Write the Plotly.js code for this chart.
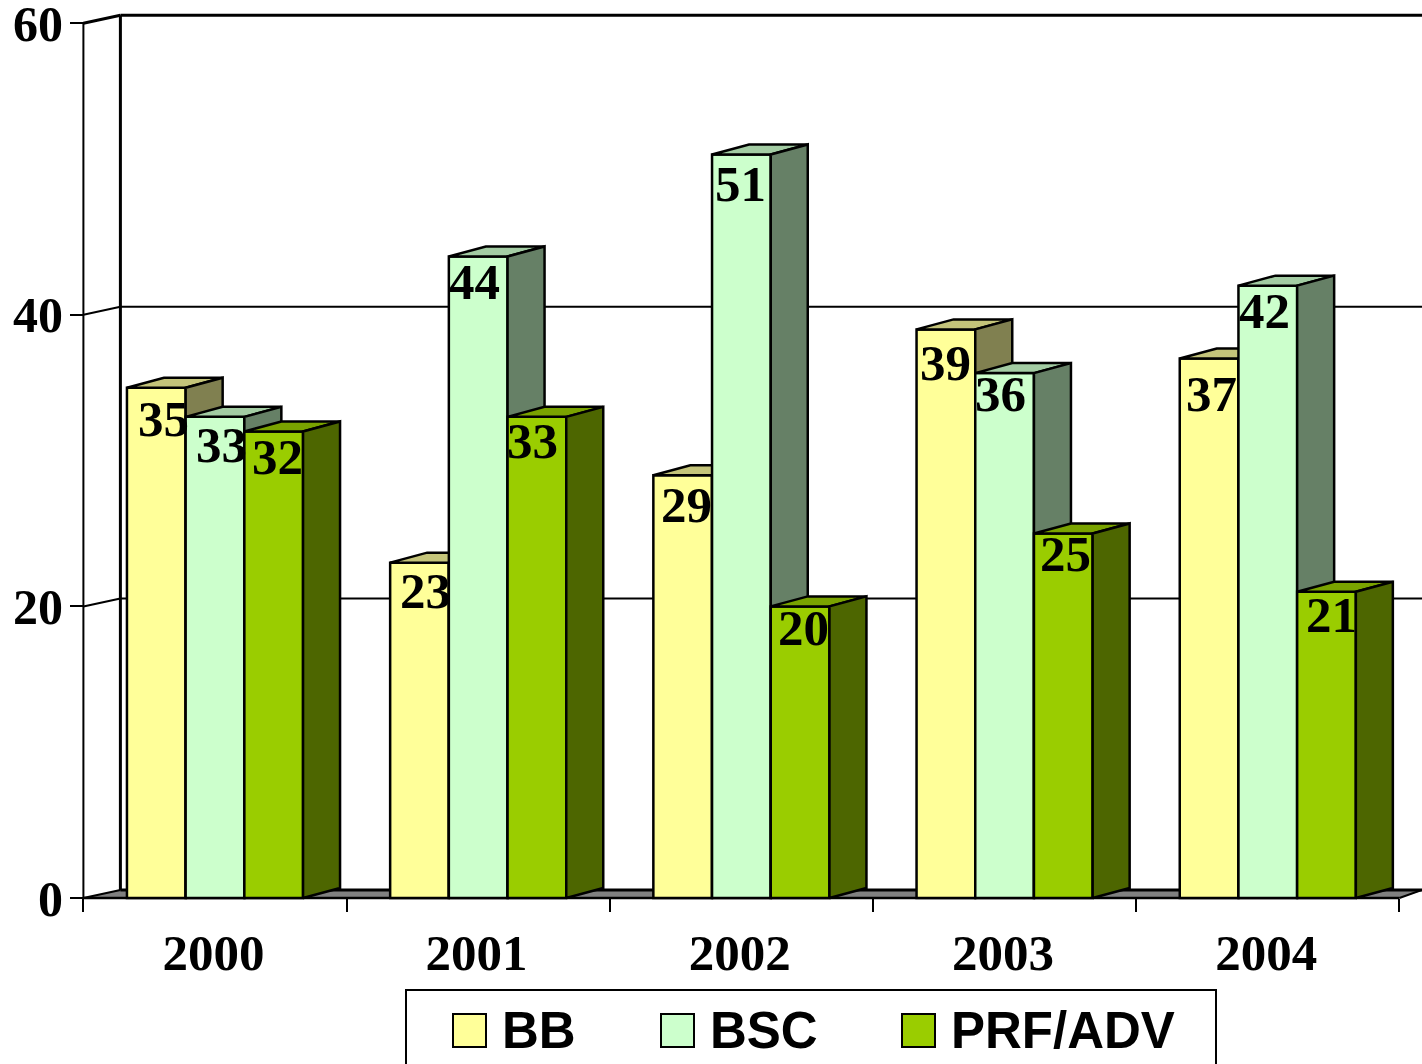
<!DOCTYPE html>
<html><head><meta charset="utf-8">
<script src="https://cdn.plot.ly/plotly-3.0.1.min.js"></script>
<style>html,body{margin:0;padding:0;background:#fff;overflow:hidden}</style>
</head><body><div id="chart" style="width:1422px;height:1064px"></div>
<script>
// ---- data ----
const years = ['2000','2001','2002','2003','2004'];
const seriesNames = ['BB','BSC','PRF/ADV'];
const BB  = [35,23,29,39,37];
const BSC = [33,44,51,36,42];
const PRF = [32,33,20,25,21];
const yTicks = [0,20,40,60];

// ---- styles ----
const frontColors = ['#FFFF99','#CCFFCC','#9ACD00'];
const topColors   = ['#C4C47A','#A3CCA3','#7AA300'];
const sideColors  = ['#808050','#668066','#4D6600'];
const labelShiftX = [[7,6,4,0,2],[6,-4,-1,-4,-3],[4,-4,3,2,5]];
const labelShiftY = [[31,28,30,34,35],[28,26,30,21,25],[26,24,22,20,23]];

// ---- geometry (pixels -> axis units) ----
const W = 1422, H = 1064;
const pxPerCat = 263.2, pxPerVal = 14.58, x0px = 215, y0px = 898;
const xRange = [-x0px/pxPerCat, (W-x0px)/pxPerCat];
const yRange = [(y0px-H)/pxPerVal, y0px/pxPerVal];
const barW = 58.7/pxPerCat, depthX = 37/pxPerCat, depthY = 10/pxPerVal, wallY = 8/pxPerVal;
const serif = 'Liberation Serif, Times New Roman, serif';
const sans = 'Liberation Sans, Arial, sans-serif';
const values = [BB,BSC,PRF];
const idx = years.map((_,i)=>i);

const traces = [];
values.forEach((vals,k)=>{
  const suffix = k===0 ? '' : String(k+1);
  const xa = 'x'+suffix, ya = 'y'+suffix;
  const off = -1.5*barW + k*barW;
  traces.push({type:'bar', name:seriesNames[k], x:idx, y:vals, xaxis:xa, yaxis:ya,
    width:barW, offset:off, marker:{color:frontColors[k], line:{color:'#000',width:2.5}},
    showlegend:false, hoverinfo:'x+y+name'});
  const tx=[],ty=[],sx=[],sy=[];
  vals.forEach((v,i)=>{
    const l=i+off, r=l+barW;
    tx.push(l,l+depthX,r+depthX,r,l,null); ty.push(v,v+depthY,v+depthY,v,v,null);
    sx.push(r,r+depthX,r+depthX,r,r,null); sy.push(0,depthY,v+depthY,v,0,null);
  });
  [[tx,ty,topColors[k]],[sx,sy,sideColors[k]]].forEach(([px,py,c])=>{
    traces.push({type:'scatter',mode:'lines',x:px,y:py,xaxis:xa,yaxis:ya,fill:'toself',fillcolor:c,
      line:{color:'#000',width:2.5,shape:'linear'},showlegend:false,hoverinfo:'skip'});
  });
});

const xFirst=-0.5, xLast=4.5, wallX=xFirst+depthX;
const line=(x1,y1,x2,y2,w)=>({type:'line',xref:'x',yref:'y',x0:x1,y0:y1,x1:x2,y1:y2,line:{color:'#000',width:w},layer:'below'});
const shapes=[
  {type:'path',xref:'x',yref:'y',layer:'below',fillcolor:'#808080',line:{width:0},
   path:`M${xFirst},0 L${wallX},${wallY} L${xRange[1]},${wallY} L${xRange[1]},${wallY*0.9} L${xLast},0 Z`},
  line(xFirst,0,xLast,0,2.5),
  line(wallX,wallY,xRange[1],wallY,3),
  line(xLast,0,xRange[1],wallY,2),
  line(xFirst,0,wallX,wallY,2),
  line(xFirst,0,xFirst,60,2),
  line(wallX,wallY,wallX,60+wallY,3)
];
yTicks.slice(1).forEach(t=>{
  const w = t===60 ? 3 : 2;
  shapes.push(line(wallX,t+wallY,xRange[1],t+wallY,w));
  shapes.push(line(xFirst,t,wallX,t+wallY,w));
});

// legend box, swatches and entries
const px=v=>v/W, py=v=>1-v/H;
const annotations=[];
shapes.push({type:'rect',xref:'paper',yref:'paper',x0:px(406),x1:px(1216),y0:py(1090),y1:py(990),
  line:{color:'#000',width:2},fillcolor:'#fff',layer:'above'});
const swatchX=[453,661,902], textX=[500,708,949];
seriesNames.forEach((n,k)=>{
  shapes.push({type:'rect',xref:'paper',yref:'paper',x0:px(swatchX[k]),x1:px(swatchX[k]+33),y0:py(1047),y1:py(1014),
    line:{color:'#000',width:2},fillcolor:frontColors[k],layer:'above'});
  annotations.push({xref:'paper',yref:'paper',x:px(textX[k]),y:py(1030),xanchor:'left',yanchor:'middle',
    text:n,showarrow:false,font:{family:sans,size:51,color:'#000',weight:700}});
});
// value labels
values.forEach((vals,k)=>vals.forEach((v,i)=>{
  annotations.push({xref:'x',yref:'y',x:i-1.5*barW+(k+0.5)*barW,y:v,text:String(v),showarrow:false,
    xanchor:'center',yanchor:'middle',xshift:labelShiftX[k][i],yshift:-labelShiftY[k][i],
    font:{family:serif,size:51,color:'#000',weight:700}});
}));

const hiddenY={range:yRange,visible:false,overlaying:'y',fixedrange:true};
const layout={
  width:W,height:H,margin:{l:0,r:0,t:0,b:0},paper_bgcolor:'#fff',plot_bgcolor:'rgba(0,0,0,0)',
  showlegend:false,shapes,annotations,
  xaxis:{range:xRange,anchor:'free',position:(H-y0px)/H,tickmode:'array',tickvals:idx.map(i=>i-0.006),ticktext:years,ticks:'',
    showgrid:false,zeroline:false,showline:false,ticklabelstandoff:20,automargin:false,fixedrange:true,
    tickfont:{family:serif,size:51,color:'#000',weight:700}},
  yaxis:{range:yRange,anchor:'free',position:84/W,tickmode:'array',tickvals:yTicks,ticks:'outside',ticklen:14,tickwidth:2,tickcolor:'#000',
    showgrid:false,zeroline:false,showline:false,automargin:false,fixedrange:true,ticklabelstandoff:-3,ticklabeloverflow:'allow',
    tickfont:{family:serif,size:50,color:'#000',weight:700}},
  xaxis2:{range:xRange,overlaying:'x',anchor:'free',position:(H-y0px)/H,tickmode:'array',
    tickvals:[-0.5,0.5,1.5,2.5,3.5,4.5],ticks:'outside',ticklen:13,tickwidth:2,tickcolor:'#000',
    showticklabels:false,showgrid:false,zeroline:false,showline:false,fixedrange:true},
  yaxis2:hiddenY,
  xaxis3:{range:xRange,overlaying:'x',visible:false,fixedrange:true},
  yaxis3:hiddenY
};
Plotly.newPlot('chart',traces,layout,{displayModeBar:false});
</script></body></html>
